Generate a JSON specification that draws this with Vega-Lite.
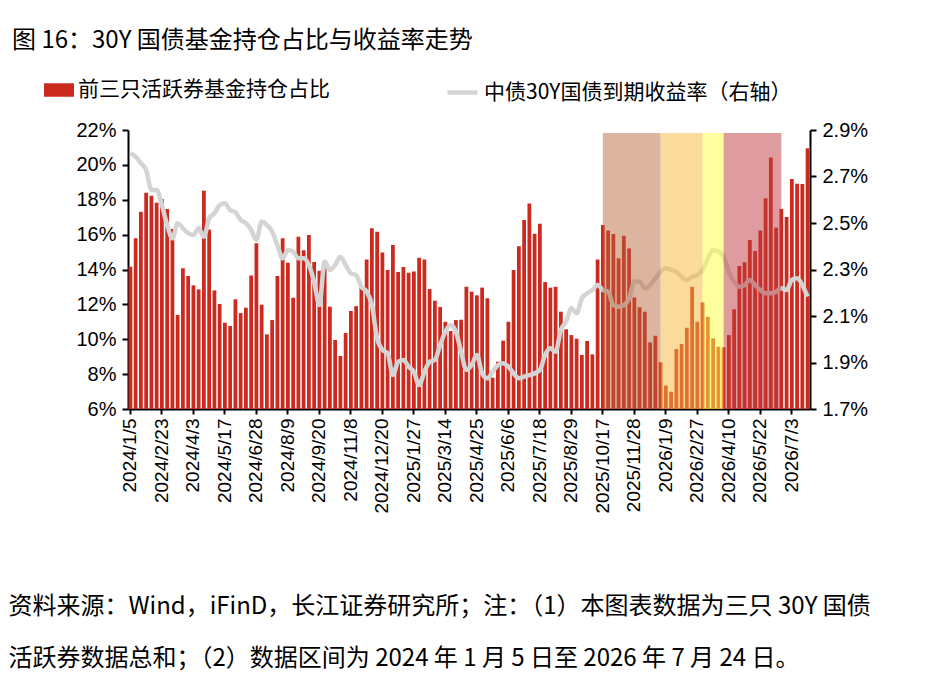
{
  "$schema": "https://vega.github.io/schema/vega-lite/v6.json",
  "background": "white",
  "autosize": {"type": "none"},
  "width": 682,
  "height": 279,
  "padding": {"left": 128, "top": 130, "right": 116, "bottom": 291},
  "title": {
    "text": "图 16：30Y 国债基金持仓占比与收益率走势",
    "anchor": "start",
    "frame": "group",
    "dx": -116,
    "offset": 22,
    "font": "Noto Sans CJK SC",
    "fontSize": 24,
    "fontWeight": "normal",
    "color": "#000000"
  },
  "datasets": {
    "main": [
      {"i":0,"v":14.16,"r":2.8},{"i":1,"v":15.79,"r":2.785},{"i":2,"v":17.31,"r":2.757},{"i":3,"v":18.4,"r":2.728},{"i":4,"v":18.23,"r":2.642},{"i":5,"v":17.83,"r":2.642},{"i":6,"v":18.04,"r":2.577},{"i":7,"v":17.47,"r":2.491},{"i":8,"v":16.32,"r":2.434},{"i":9,"v":11.39,"r":2.499},
      {"i":10,"v":14.07,"r":2.477},{"i":11,"v":13.63,"r":2.456},{"i":12,"v":13.09,"r":2.448},{"i":13,"v":12.86,"r":2.477},{"i":14,"v":18.52,"r":2.441},{"i":15,"v":16.3,"r":2.52},{"i":16,"v":12.8,"r":2.542},{"i":17,"v":12.02,"r":2.577},{"i":18,"v":10.95,"r":2.585},{"i":19,"v":10.76,"r":2.556},
      {"i":20,"v":12.29,"r":2.546},{"i":21,"v":11.5,"r":2.513},{"i":22,"v":11.81,"r":2.499},{"i":23,"v":13.65,"r":2.47},{"i":24,"v":15.5,"r":2.427},{"i":25,"v":11.98,"r":2.506},{"i":26,"v":10.28,"r":2.491},{"i":27,"v":11.1,"r":2.463},{"i":28,"v":13.63,"r":2.405},{"i":29,"v":15.79,"r":2.348},
      {"i":30,"v":14.39,"r":2.384},{"i":31,"v":12.38,"r":2.377},{"i":32,"v":15.88,"r":2.348},{"i":33,"v":15.1,"r":2.348},{"i":34,"v":15.98,"r":2.319},{"i":35,"v":14.43,"r":2.248},{"i":36,"v":13.93,"r":2.147},{"i":37,"v":14.07,"r":2.334},{"i":38,"v":11.87,"r":2.298},{"i":39,"v":9.96,"r":2.319},
      {"i":40,"v":9.04,"r":2.355},{"i":41,"v":10.36,"r":2.319},{"i":42,"v":11.62,"r":2.284},{"i":43,"v":11.9,"r":2.276},{"i":44,"v":12.96,"r":2.226},{"i":45,"v":14.58,"r":2.205},{"i":46,"v":16.36,"r":2.147},{"i":47,"v":16.17,"r":2.004},{"i":48,"v":14.98,"r":1.954},{"i":49,"v":13.97,"r":1.94},
      {"i":50,"v":15.4,"r":1.846},{"i":51,"v":13.86,"r":1.903},{"i":52,"v":14.14,"r":1.911},{"i":53,"v":13.82,"r":1.882},{"i":54,"v":13.88,"r":1.86},{"i":55,"v":14.68,"r":1.803},{"i":56,"v":14.58,"r":1.86},{"i":57,"v":12.88,"r":1.903},{"i":58,"v":12.21,"r":1.911},{"i":59,"v":11.85,"r":1.975},
      {"i":60,"v":11.0,"r":2.033},{"i":61,"v":10.47,"r":2.061},{"i":62,"v":11.1,"r":2.033},{"i":63,"v":11.12,"r":1.946},{"i":64,"v":13.01,"r":1.868},{"i":65,"v":12.73,"r":1.889},{"i":66,"v":12.52,"r":1.932},{"i":67,"v":12.96,"r":1.853},{"i":68,"v":12.35,"r":1.832},{"i":69,"v":7.8,"r":1.86},
      {"i":70,"v":8.71,"r":1.889},{"i":71,"v":9.92,"r":1.897},{"i":72,"v":11.0,"r":1.882},{"i":73,"v":13.97,"r":1.853},{"i":74,"v":15.33,"r":1.832},{"i":75,"v":16.84,"r":1.839},{"i":76,"v":17.79,"r":1.846},{"i":77,"v":16.05,"r":1.853},{"i":78,"v":16.63,"r":1.868},{"i":79,"v":13.28,"r":1.932},
      {"i":80,"v":12.96,"r":1.961},{"i":81,"v":13.01,"r":1.946},{"i":82,"v":11.58,"r":2.04},{"i":83,"v":10.57,"r":2.076},{"i":84,"v":10.24,"r":2.133},{"i":85,"v":10.03,"r":2.112},{"i":86,"v":9.1,"r":2.176},{"i":87,"v":9.9,"r":2.198},{"i":88,"v":9.13,"r":2.212},{"i":89,"v":14.58,"r":2.233},
      {"i":90,"v":16.55,"r":2.212},{"i":91,"v":16.24,"r":2.205},{"i":92,"v":16.03,"r":2.147},{"i":93,"v":14.64,"r":2.14},{"i":94,"v":15.94,"r":2.147},{"i":95,"v":15.21,"r":2.176},{"i":96,"v":12.4,"r":2.248},{"i":97,"v":11.83,"r":2.248},{"i":98,"v":11.58,"r":2.219},{"i":99,"v":9.82,"r":2.233},
      {"i":100,"v":10.2,"r":2.262},{"i":101,"v":8.68,"r":2.29},{"i":102,"v":7.34,"r":2.305},{"i":103,"v":6.99,"r":2.298},{"i":104,"v":9.44,"r":2.29},{"i":105,"v":9.73,"r":2.269},{"i":106,"v":10.66,"r":2.255},{"i":107,"v":13.01,"r":2.269},{"i":108,"v":11.0,"r":2.276},{"i":109,"v":12.12,"r":2.298},
      {"i":110,"v":11.29,"r":2.348},{"i":111,"v":10.05,"r":2.384},{"i":112,"v":9.57,"r":2.377},{"i":113,"v":9.54,"r":2.355},{"i":114,"v":10.24,"r":2.29},{"i":115,"v":11.72,"r":2.248},{"i":116,"v":14.2,"r":2.226},{"i":117,"v":14.41,"r":2.233},{"i":118,"v":15.69,"r":2.255},{"i":119,"v":15.06,"r":2.233},
      {"i":120,"v":16.24,"r":2.212},{"i":121,"v":18.08,"r":2.198},{"i":122,"v":20.43,"r":2.198},{"i":123,"v":16.4,"r":2.205},{"i":124,"v":17.47,"r":2.219},{"i":125,"v":17.01,"r":2.212},{"i":126,"v":19.19,"r":2.255},{"i":127,"v":18.92,"r":2.262},{"i":128,"v":18.9,"r":2.233},{"i":129,"v":20.95,"r":2.183}
    ],
    "zones": [
      {"s": 90, "e": 101, "c": "#b5653a", "o": 0.48},
      {"s": 101, "e": 109, "c": "#f5b83a", "o": 0.5},
      {"s": 109, "e": 113, "c": "#ffff40", "o": 0.5},
      {"s": 113, "e": 124, "c": "#bf3a3e", "o": 0.5}
    ]
  },
  "config": {
    "font": "Noto Sans CJK SC",
    "view": {"stroke": null},
    "axis": {
      "labelFont": "Liberation Sans",
      "labelFontSize": 20,
      "labelColor": "#000000",
      "domainColor": "#000000",
      "tickColor": "#000000",
      "domainWidth": 2,
      "tickWidth": 2,
      "grid": false
    },
    "legend": {
      "labelFont": "Noto Sans CJK SC",
      "labelFontSize": 21,
      "labelColor": "#000000",
      "labelLimit": 0,
      "orient": "none",
      "direction": "horizontal"
    }
  },
  "layer": [
    {
      "data": {"name": "main"},
      "mark": {"type": "bar", "clip": true},
      "encoding": {
        "x": {
          "field": "i",
          "type": "ordinal",
          "scale": {"paddingInner": 0.28, "paddingOuter": 0.1},
          "axis": {
            "values": [0,6,12,18,24,30,36,42,48,54,60,66,72,78,84,90,96,102,108,114,120,126],
            "labelExpr": "['2024/1/5','2024/2/23','2024/4/3','2024/5/17','2024/6/28','2024/8/9','2024/9/20','2024/11/8','2024/12/20','2025/1/27','2025/3/14','2025/4/25','2025/6/6','2025/7/18','2025/8/29','2025/10/17','2025/11/28','2026/1/9','2026/2/27','2026/4/10','2026/5/22','2026/7/3'][datum.value / 6]",
            "labelAngle": -90,
            "labelFontSize": 19,
            "labelPadding": 4,
            "tickSize": 5,
            "title": ["资料来源：Wind，iFinD，长江证券研究所；注：（1）本图表数据为三只 30Y 国债", "活跃券数据总和；（2）数据区间为 2024 年 1 月 5 日至 2026 年 7 月 24 日。"],
            "titleFont": "Noto Sans CJK SC",
            "titleFontSize": 24,
            "titleFontWeight": "normal",
            "titleColor": "#000000",
            "titleAlign": "left",
            "titleAnchor": "start",
            "titleBaseline": "top",
            "titleLineHeight": 52,
            "titleX": -120,
            "titleY": 185
          }
        },
        "y": {
          "field": "v",
          "type": "quantitative",
          "scale": {"domain": [6, 22], "zero": false, "nice": false},
          "axis": {"values": [6,8,10,12,14,16,18,20,22], "labelExpr": "datum.value + '%'", "title": null, "tickSize": 6, "labelPadding": 6}
        },
        "y2": {"datum": 6},
        "color": {
          "datum": "前三只活跃券基金持仓占比",
          "scale": {"range": ["#cc2a1f"]},
          "legend": {"legendX": -84, "legendY": -55, "symbolType": "M-1,-0.45H1V0.45H-1Z", "symbolSize": 900, "title": null, "symbolStrokeWidth": 0}
        }
      }
    },
    {
      "data": {"name": "main"},
      "mark": {"type": "line", "strokeWidth": 4.5, "interpolate": "monotone", "clip": true},
      "encoding": {
        "x": {"field": "i", "type": "ordinal"},
        "y": {
          "field": "r",
          "type": "quantitative",
          "scale": {"domain": [1.7, 2.9], "zero": false, "nice": false},
          "axis": {"orient": "right", "values": [1.7,1.9,2.1,2.3,2.5,2.7,2.9], "labelExpr": "format(datum.value, '.1f') + '%'", "title": null, "tickSize": 6, "labelPadding": 6}
        },
        "stroke": {
          "datum": "中债30Y国债到期收益率（右轴）",
          "scale": {"range": ["#d4d4d4"]},
          "legend": {"legendX": 317, "legendY": -55, "symbolType": "stroke", "symbolSize": 900, "symbolStrokeWidth": 4.5, "title": null}
        }
      }
    },
    {
      "data": {"name": "zones"},
      "mark": {"type": "rect"},
      "encoding": {
        "x": {"field": "s", "type": "ordinal"},
        "x2": {"field": "e"},
        "y": {"value": 3},
        "y2": {"value": 279},
        "color": {"field": "c", "type": "nominal", "scale": null, "legend": null},
        "opacity": {"field": "o", "type": "quantitative", "scale": null, "legend": null}
      }
    }
  ],
  "resolve": {"scale": {"y": "independent", "color": "independent"}}
}
